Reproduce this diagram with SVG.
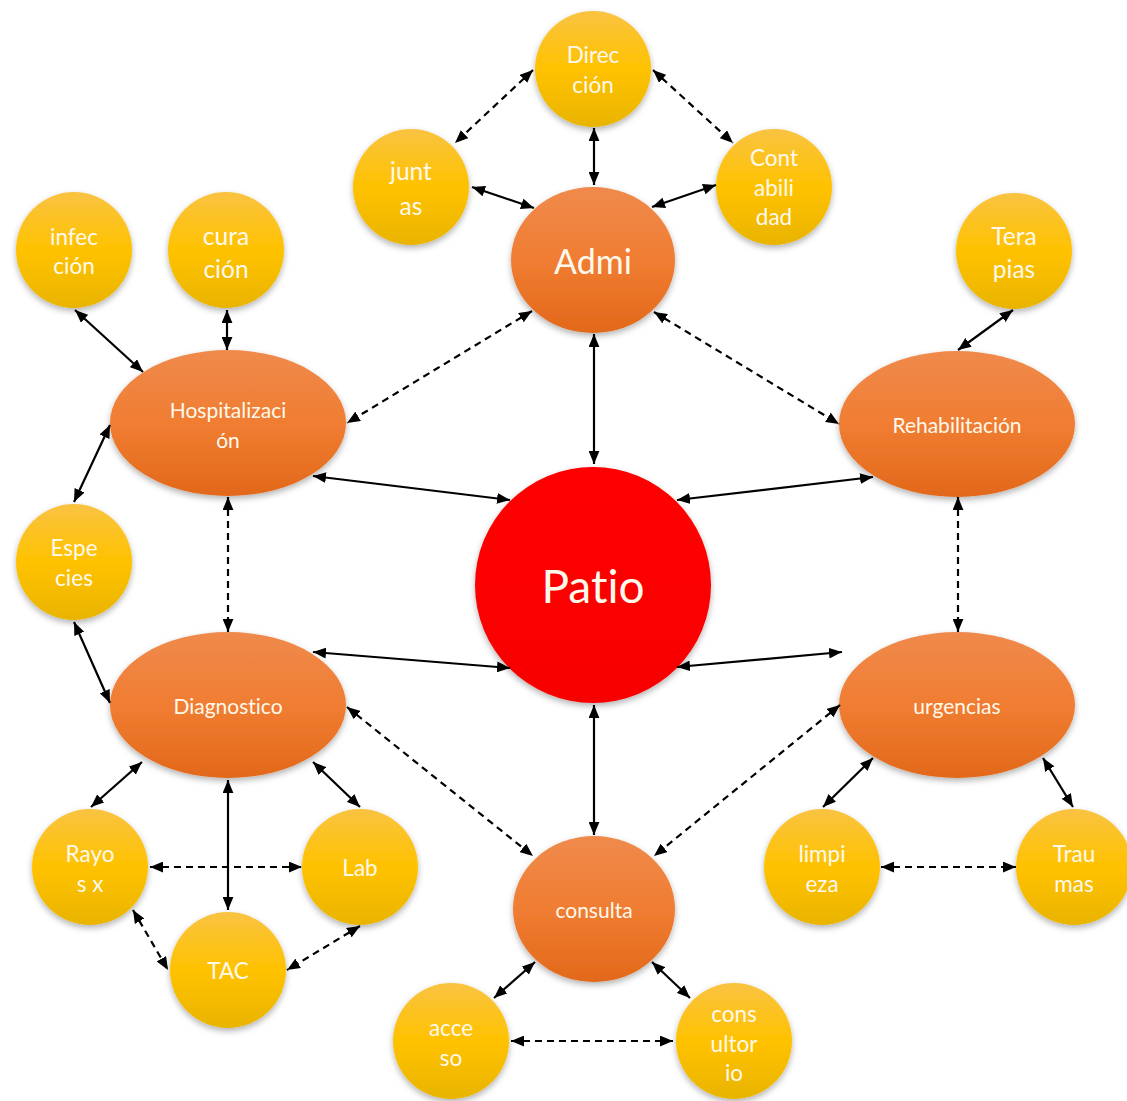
<svg xmlns="http://www.w3.org/2000/svg" width="1127" height="1101" viewBox="0 0 1127 1101">
<style>
.y{fill:url(#gy);filter:url(#sh)}
.o{fill:url(#go);filter:url(#sh)}
.r{fill:url(#gr);filter:url(#sh)}
text{font-family:Lato,"Open Sans","Liberation Sans",sans-serif;fill:#FFF9EC;text-anchor:middle;dominant-baseline:central;font-variant-ligatures:none;font-feature-settings:"liga" 0}
.s{font-size:22.5px}
.b{font-size:24.5px}
.m{font-size:21px}
.c line{stroke:#000;stroke-width:2.2;marker-start:url(#a);marker-end:url(#a)}
.c .d{stroke-dasharray:7 5}
</style>
<defs>
<linearGradient id="gy" x1="0" y1="0" x2="0" y2="1"><stop offset="0" stop-color="#F9C342"/><stop offset="0.5" stop-color="#FFC200"/><stop offset="1" stop-color="#E9B400"/></linearGradient>
<linearGradient id="go" x1="0" y1="0" x2="0" y2="1"><stop offset="0" stop-color="#EF8A4C"/><stop offset="0.5" stop-color="#F07D32"/><stop offset="1" stop-color="#E2681A"/></linearGradient>
<linearGradient id="gr" x1="0" y1="0" x2="0" y2="1"><stop offset="0" stop-color="#FF0000"/><stop offset="1" stop-color="#F80000"/></linearGradient>
<filter id="sh" x="-20%" y="-20%" width="140%" height="150%"><feDropShadow dx="0" dy="3" stdDeviation="3" flood-color="#000" flood-opacity="0.3"/></filter>
<marker id="a" viewBox="0 0 12 10" refX="12" refY="5" markerWidth="13" markerHeight="11" markerUnits="userSpaceOnUse" orient="auto-start-reverse"><path d="M0,0 L12,5 L0,10 z" fill="#000"/></marker>
</defs>

<g id="patio"><circle class="r" cx="593" cy="585" r="118"/><text x="593" y="585" style="font-size:46px">Patio</text></g>
<g id="admi"><ellipse class="o" cx="593" cy="260" rx="82" ry="73"/><text x="593" y="260" style="font-size:34px">Admi</text></g>
<g id="hospitalizacion"><ellipse class="o" cx="228" cy="423" rx="118" ry="73"/><text class="m" x="228" y="409">Hospitalizaci</text><text class="m" x="228" y="439">ón</text></g>
<g id="rehabilitacion"><ellipse class="o" cx="957" cy="424" rx="118" ry="73"/><text class="m" x="957" y="424">Rehabilitación</text></g>
<g id="diagnostico"><ellipse class="o" cx="228" cy="705" rx="118" ry="73"/><text class="m" x="228" y="705">Diagnostico</text></g>
<g id="urgencias"><ellipse class="o" cx="957" cy="705" rx="118" ry="73"/><text class="m" x="957" y="705">urgencias</text></g>
<g id="consulta"><ellipse class="o" cx="594" cy="909" rx="81" ry="73"/><text class="m" x="594" y="909">consulta</text></g>

<g id="direccion"><circle class="y" cx="593" cy="69" r="58"/><text class="s" x="593" y="54">Direc</text><text class="s" x="593" y="84">ción</text></g>
<g id="juntas"><circle class="y" cx="411" cy="187" r="58"/><text class="b" x="411" y="170">junt</text><text class="b" x="411" y="205">as</text></g>
<g id="contabilidad"><circle class="y" cx="774" cy="187" r="58"/><text class="s" x="774" y="157">Cont</text><text class="s" x="774" y="187">abili</text><text class="s" x="774" y="216">dad</text></g>
<g id="infeccion"><circle class="y" cx="74" cy="250" r="58"/><text class="s" x="74" y="236">infec</text><text class="s" x="74" y="265">ción</text></g>
<g id="curacion"><circle class="y" cx="226" cy="250" r="58"/><text class="b" x="226" y="235">cura</text><text class="b" x="226" y="268">ción</text></g>
<g id="terapias"><circle class="y" cx="1014" cy="251" r="58"/><text class="b" x="1014" y="235">Tera</text><text class="b" x="1014" y="268">pias</text></g>
<g id="especies"><circle class="y" cx="74" cy="562" r="58"/><text class="s" x="74" y="547">Espe</text><text class="s" x="74" y="577">cies</text></g>
<g id="rayosx"><circle class="y" cx="90" cy="867" r="58"/><text class="s" x="90" y="853">Rayo</text><text class="s" x="90" y="883">s x</text></g>
<g id="lab"><circle class="y" cx="360" cy="867" r="58"/><text class="s" x="360" y="867">Lab</text></g>
<g id="tac"><circle class="y" cx="228" cy="970" r="58"/><text class="s" x="228" y="970">TAC</text></g>
<g id="acceso"><circle class="y" cx="451" cy="1041" r="58"/><text class="s" x="451" y="1027">acce</text><text class="s" x="451" y="1057">so</text></g>
<g id="consultorio"><circle class="y" cx="734" cy="1041" r="58"/><text class="s" x="734" y="1013">cons</text><text class="s" x="734" y="1043">ultor</text><text class="s" x="734" y="1072">io</text></g>
<g id="limpieza"><circle class="y" cx="822" cy="867" r="58"/><text class="s" x="822" y="853">limpi</text><text class="s" x="822" y="883">eza</text></g>
<g id="traumas"><circle class="y" cx="1074" cy="867" r="58"/><text class="s" x="1074" y="853">Trau</text><text class="s" x="1074" y="883">mas</text></g>

<g id="connectors" class="c">
<line class="d" x1="533" y1="70" x2="455" y2="143"/>
<line class="d" x1="653" y1="70" x2="733" y2="143"/>
<line x1="594" y1="128" x2="594" y2="185"/>
<line x1="472" y1="187" x2="534" y2="208"/>
<line x1="716" y1="185" x2="652" y2="207"/>
<line class="d" x1="532" y1="311" x2="347" y2="423"/>
<line class="d" x1="654" y1="312" x2="839" y2="424"/>
<line x1="594" y1="334" x2="594" y2="464"/>
<line x1="75" y1="310" x2="143" y2="372"/>
<line x1="227" y1="310" x2="227" y2="350"/>
<line x1="110" y1="425" x2="74" y2="502"/>
<line x1="313" y1="476" x2="510" y2="500"/>
<line x1="1013" y1="310" x2="958" y2="350"/>
<line x1="873" y1="477" x2="677" y2="500"/>
<line class="d" x1="228" y1="497" x2="228" y2="632"/>
<line x1="74" y1="622" x2="110" y2="703"/>
<line x1="313" y1="652" x2="510" y2="668"/>
<line class="d" x1="347" y1="707" x2="533" y2="856"/>
<line x1="594" y1="705" x2="594" y2="835"/>
<line class="d" x1="958" y1="497" x2="958" y2="632"/>
<line x1="842" y1="652" x2="677" y2="667"/>
<line class="d" x1="840" y1="705" x2="654" y2="856"/>
<line x1="142" y1="762" x2="91" y2="807"/>
<line x1="228" y1="780" x2="228" y2="910"/>
<line x1="313" y1="762" x2="360" y2="807"/>
<line class="d" x1="150" y1="867" x2="302" y2="867"/>
<line class="d" x1="133" y1="910" x2="168" y2="970"/>
<line class="d" x1="360" y1="926" x2="287" y2="970"/>
<line x1="535" y1="962" x2="494" y2="998"/>
<line x1="652" y1="962" x2="690" y2="998"/>
<line class="d" x1="511" y1="1041" x2="673" y2="1041"/>
<line x1="873" y1="758" x2="823" y2="807"/>
<line x1="1043" y1="758" x2="1073" y2="807"/>
<line class="d" x1="881" y1="867" x2="1016" y2="867"/>
</g>
</svg>
